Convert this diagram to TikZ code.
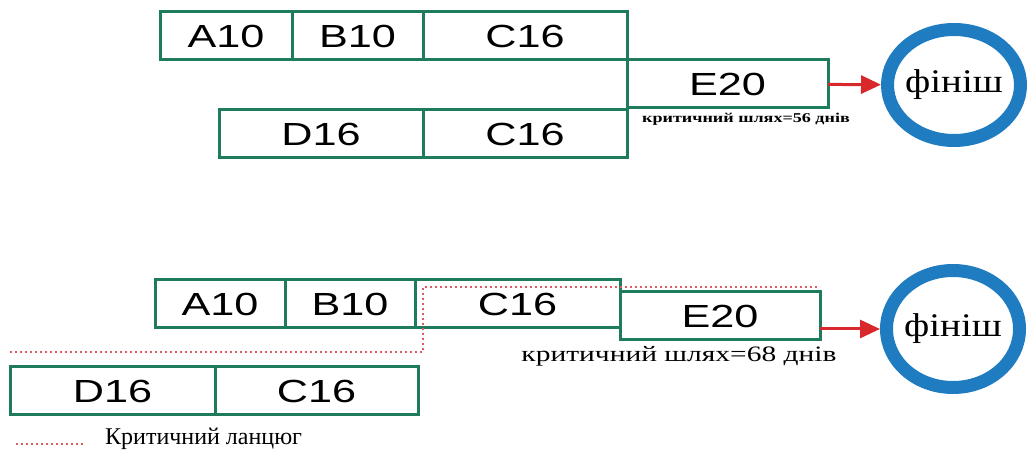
\documentclass[tikz,border=0pt]{standalone}
\usepackage{fontspec}
\setmainfont{Liberation Serif}
\setsansfont{Liberation Sans}
\newfontfamily\boxfont[FakeStretch=1.35]{Liberation Sans}
\newfontfamily\notefont[FakeStretch=1.34]{Liberation Serif}
\newfontfamily\finfont[FakeStretch=1.18]{Liberation Serif}
\usetikzlibrary{arrows.meta,positioning,shapes.geometric}
\definecolor{taskgreen}{HTML}{1E7B5C}
\definecolor{finblue}{HTML}{1F7CC0}
\definecolor{critred}{HTML}{D8282C}
\definecolor{chainred}{HTML}{E05A62}

\begin{document}
\begin{tikzpicture}[
  x=1pt, y=1pt,
  task/.style={draw=taskgreen, line width=3pt, outer sep=0pt, inner sep=0pt, minimum height=48pt, minimum width=#1, font=\boxfont\fontsize{32}{32}\selectfont},
  finish/.style={ellipse, draw=finblue, line width=13pt, inner xsep=-3pt, inner ysep=0pt, minimum width=133pt, minimum height=#1, font=\finfont\fontsize{33}{33}\selectfont},
  arrow/.style={-{Triangle[length=20pt, width=18pt]}, line width=3pt, critred},
  chain/.style={chainred, line width=2pt, dash pattern=on 2pt off 3pt},
  note/.style={font=\notefont\fontsize{#1}{#1}\selectfont, inner sep=0pt}
]
  \useasboundingbox (0,0) rectangle (1030,452);

  % Top: parallel chains
  \node[task=132pt, anchor=north west] (a1) at (160,440) {A10};
  \node[task=131pt, right=0pt of a1] (b1) {B10};
  \node[task=204pt, right=0pt of b1] (c1) {C16};
  \node[task=201pt, anchor=north west] (e1) at (c1.south east) {E20};
  \node[task=204pt, anchor=north east] (c1d) at (627,342) {C16};
  \node[task=204pt, left=0pt of c1d] (d1) {D16};
  \node[inner sep=0pt, font=\notefont\bfseries\fontsize{13.5}{13.5}\selectfont] (cp1) at (746,333) {критичний шлях=56 днів};

  % Top: finish
  \node[finish=111pt] (f1) at (954,367) {фініш};
  \draw[arrow] (e1) -- (f1);

  % Bottom: shifted chains
  \node[task=130pt, anchor=north west] (a2) at (155,172) {A10};
  \node[task=130pt, right=0pt of a2] (b2) {B10};
  \node[task=205pt, right=0pt of b2] (c2) {C16};
  \node[task=200pt, anchor=north west] (e2) at (620,160) {E20};
  \node[task=205pt, anchor=north west] (d2) at (10,85) {D16};
  \node[task=203pt, right=0pt of d2] (c2d) {C16};
  \node[note=22] (cp2) at (679,96) {критичний шлях=68 днів};

  % Bottom: finish
  \node[finish=117pt] (f2) at (953,123) {фініш};
  \draw[arrow] (f2.west -| e2.east) -- (f2.west);

  % Critical chain
  \coordinate (k0) at (10,100);
  \coordinate (k1) at (423,165);
  \coordinate (k2) at (820,165);
  \draw[chain] (k0) -| (k1) -- (k2);

  % Legend
  \coordinate (l0) at (16,8);
  \coordinate (l1) at (83,8);
  \draw[chain] (l0) -- (l1);
  \node[font=\fontsize{24}{24}\selectfont, inner sep=0pt, anchor=base west] (lg) at (105,7) {Критичний ланцюг};
\end{tikzpicture}
\end{document}
